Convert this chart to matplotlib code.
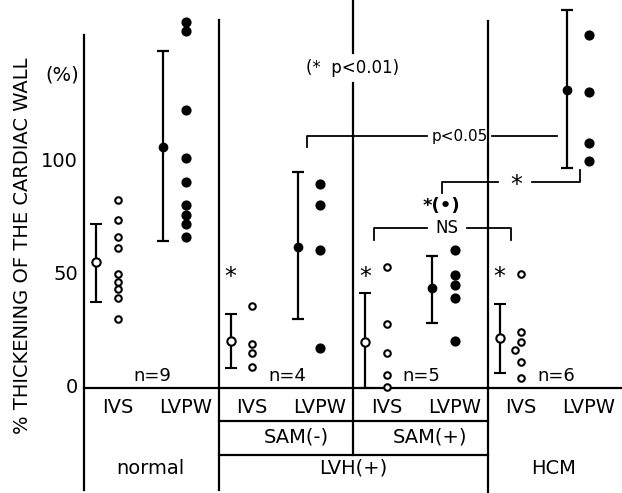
import matplotlib
matplotlib.use('Agg')
import matplotlib.pyplot as plt

# groups along the x axis (one slot per group)
groups = ['normal', 'SAM(-)', 'SAM(+)', 'HCM']
n_labels = ['n=9', 'n=4', 'n=5', 'n=6']

# individual values (% thickening)
ivs_values = [
    [83.2, 74.3, 66.7, 61.8, 50.4, 47.0, 43.7, 40.0, 30.4],
    [36.3, 19.5, 15.3, 9.4],
    [53.7, 28.2, 15.3, 5.7, 0.6],
    [50.4, 24.6, 20.5, 16.8, 11.6, 4.6],
]
lvpw_values = [
    [162.1, 158.1, 123.0, 101.6, 91.3, 81.0, 76.5, 72.6, 66.7],
    [90.3, 81.0, 61.0, 17.6],
    [61.0, 50.0, 45.6, 39.7, 20.8],
    [156.2, 131.1, 108.5, 100.6],
]
# small sideways shift of overlapping dots
ivs_shift = [
    [0] * 9,
    [0] * 4,
    [0] * 5,
    [0, 0, 0, -0.045, 0, 0],
]

# mean and range bars (mean, low, high)
ivs_mean = [55.8, 20.9, 20.2, 22.0]
ivs_low = [38.0, 8.7, 0.0, 6.8]
ivs_high = [72.6, 32.7, 42.2, 37.0]
lvpw_mean = [106.8, 62.5, 44.4, 131.9]
lvpw_low = [65.2, 30.5, 28.9, 97.2]
lvpw_high = [149.0, 95.4, 58.4, 167.3]
ivs_star = [False, True, True, True]

yticks = [0, 50, 100]

fig = plt.figure(figsize=(6.22, 4.93), dpi=100)
ax = fig.add_axes([0, 0, 1, 1])
ax.set_xlim(-0.625, 4.0)
ax.set_ylim(-46.5, 171.7)
ax.axis('off')

lw = 1.6
fs = 14

# frame lines of the chart
ax.plot([0, 0], [-45, 156], color='k', lw=lw)
ax.plot([0, 4], [0, 0], color='k', lw=lw)
ax.plot([1, 1], [-45, 162.8], color='k', lw=lw)
ax.plot([2, 2], [-29.6, 135], color='k', lw=lw)
ax.plot([2, 2], [148.2, 171.7], color='k', lw=lw)
ax.plot([3.004, 3.004], [-46.5, 162.4], color='k', lw=lw)
ax.plot([1, 3.004], [-14.6, -14.6], color='k', lw=lw)
ax.plot([1, 3.004], [-29.6, -29.6], color='k', lw=lw)

for t in yticks:
    ax.text(-0.045, t, str(t), ha='right', va='center', fontsize=fs)
ax.text(-0.164, 138.5, '(%)', ha='center', va='center', fontsize=fs)
ax.text(-0.461, 63, '% THICKENING OF THE CARDIAC WALL', rotation=90,
        ha='center', va='center', fontsize=fs)

for i in range(len(groups)):
    # IVS
    xm = i + 0.09
    xd = i + 0.25
    ax.errorbar([xm], [ivs_mean[i]],
                yerr=[[ivs_mean[i] - ivs_low[i]], [ivs_high[i] - ivs_mean[i]]],
                fmt='o', mfc='white', mec='k', mew=1.5, ms=6, ecolor='k',
                elinewidth=lw, capsize=4, capthick=lw)
    ax.scatter([xd + s for s in ivs_shift[i]], ivs_values[i], s=22,
               facecolors='white', edgecolors='k', linewidths=1.5, zorder=3)
    if ivs_star[i]:
        ax.text(xm, 49, '*', ha='center', va='center', fontsize=17)
    # LVPW
    xm = i + 0.59
    xd = i + 0.755
    ax.errorbar([xm], [lvpw_mean[i]],
                yerr=[[lvpw_mean[i] - lvpw_low[i]], [lvpw_high[i] - lvpw_mean[i]]],
                fmt='o', color='k', ms=6, elinewidth=lw, capsize=4, capthick=lw)
    ax.scatter([xd] * len(lvpw_values[i]), lvpw_values[i], s=40, color='k',
               zorder=3)
    ax.text(i + 0.51, 5.5, n_labels[i], ha='center', va='center', fontsize=13)
    ax.text(i + 0.25, -8.8, 'IVS', ha='center', va='center', fontsize=fs)
    ax.text(i + 0.755, -8.8, 'LVPW', ha='center', va='center', fontsize=fs)

ax.text(1.58, -21.7, 'SAM(-)', ha='center', va='center', fontsize=fs)
ax.text(2.57, -21.7, 'SAM(+)', ha='center', va='center', fontsize=fs)
ax.text(0.49, -35.5, 'normal', ha='center', va='center', fontsize=fs)
ax.text(2.0, -35.5, 'LVH(+)', ha='center', va='center', fontsize=fs)
ax.text(3.49, -35.5, 'HCM', ha='center', va='center', fontsize=fs)

# significance brackets
ax.text(2.0, 141.5, '(*  p<0.01)', ha='center', va='center', fontsize=12)

ax.plot([1.656, 1.656, 2.548], [106.8, 111.5, 111.5], color='k', lw=1.3)
ax.plot([3.031, 3.515], [111.5, 111.5], color='k', lw=1.3)
ax.text(2.79, 111.5, 'p<0.05', ha='center', va='center', fontsize=11)

ax.plot([2.659, 2.659, 3.078], [86.3, 91.3, 91.3], color='k', lw=1.3)
ax.plot([3.329, 3.688, 3.688], [91.3, 91.3, 96.5], color='k', lw=1.3)
ax.text(3.217, 90, '*', ha='center', va='center', fontsize=17)
ax.text(2.659, 80.5, '*(•)', ha='center', va='center', fontsize=13,
        fontweight='bold')

ax.plot([2.156, 2.156, 2.548], [65.5, 70.7, 70.7], color='k', lw=1.3)
ax.plot([2.85, 3.175, 3.175], [70.7, 70.7, 65.5], color='k', lw=1.3)
ax.text(2.70, 70.7, 'NS', ha='center', va='center', fontsize=12)

plt.savefig('out.png', dpi=100)
